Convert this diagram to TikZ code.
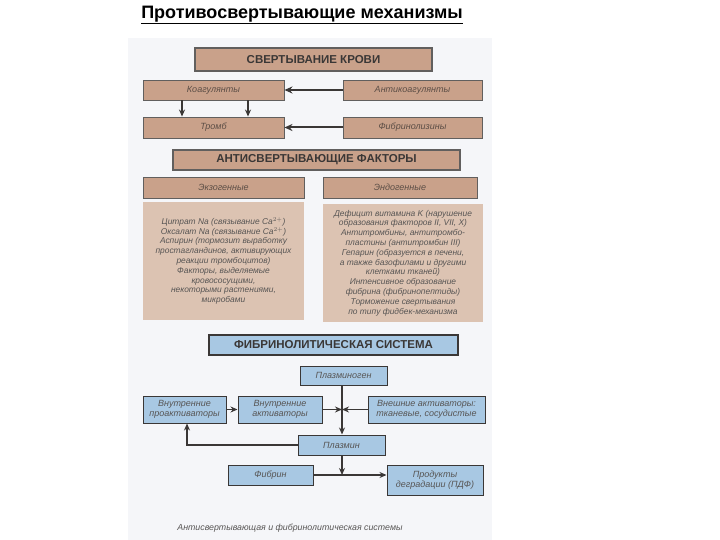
\documentclass[tikz,border=0pt]{standalone}
\usepackage{fontspec}
\setmainfont{Liberation Sans}
\usetikzlibrary{arrows.meta}

\definecolor{scan}{HTML}{F5F6F9}
\definecolor{tan}{HTML}{C9A18A}
\definecolor{tanlight}{HTML}{DCC3B2}
\definecolor{sky}{HTML}{A8C8E3}
\definecolor{ink}{HTML}{3A3736}
\definecolor{faded}{HTML}{5C4E46}

\begin{document}
\begin{tikzpicture}[x=1pt,y=-1pt,
    brownbox/.style={draw=ink!80,line width=0.9pt,fill=tan,inner sep=0pt,text=faded,font=\fontsize{9}{10}\selectfont\itshape},
    headbox/.style={brownbox,line width=1.2pt,text=ink,font=\fontsize{11.5}{12}\selectfont\bfseries},
    notebox/.style={fill=tanlight,inner sep=0pt,text=ink!85,align=center,font=\fontsize{8.4}{9.8}\selectfont\itshape},
    bluebox/.style={draw=ink,line width=1pt,fill=sky,inner sep=0pt,align=center,text=ink!85,font=\fontsize{9}{9.5}\selectfont\itshape},
    bluehead/.style={bluebox,line width=1.2pt,text=ink,font=\fontsize{11.5}{12}\selectfont\bfseries\upshape},
    thick arrow/.style={draw=ink,line width=2pt,-{Stealth[length=8pt,width=7pt]}},
    thin arrow/.style={draw=ink,line width=1.5pt,-{Stealth[length=7pt,width=6pt]}}]
  \useasboundingbox (0,0) rectangle (720,540);
  \fill[white] (0,0) rectangle (720,540);
  \fill[scan] (128,38) rectangle (492,540);

  \node (title) at (302,15) {\fontsize{18}{20}\selectfont\bfseries\underline{Противосвертывающие механизмы}};

  \node[headbox,minimum width=237,minimum height=23] (krov) at (313.5,59.5) {СВЕРТЫВАНИЕ КРОВИ};
  \node[brownbox,minimum width=141,minimum height=20] (koag) at (213.5,90) {Коагулянты};
  \node[brownbox,minimum width=139,minimum height=20] (antikoag) at (412.5,90) {Антикоагулянты};
  \node[brownbox,minimum width=141,minimum height=21] (tromb) at (213.5,127.5) {Тромб};
  \node[brownbox,minimum width=139,minimum height=21] (fibrinoliz) at (412.5,127.5) {Фибринолизины};

  \draw[thick arrow] (antikoag) -- (koag);
  \draw[thick arrow] (fibrinoliz) -- (tromb);
  \foreach \dx in {-31.5,34.5}
    \draw[thin arrow] ([xshift=\dx]koag.south) -- ([xshift=\dx]tromb.north);

  \node[headbox,minimum width=287,minimum height=20] (faktory) at (316.5,160) {АНТИСВЕРТЫВАЮЩИЕ ФАКТОРЫ};
  \node[brownbox,minimum width=161,minimum height=21] (exo) at (223.5,187.5) {Экзогенные};
  \node[brownbox,minimum width=154,minimum height=21] (endo) at (400,187.5) {Эндогенные};

  \node[notebox,minimum width=161,minimum height=118] (exotext) at (223.5,261) {Цитрат Na (связывание Ca$^{2+}$)\\
    Оксалат Na (связывание Ca$^{2+}$)\\
    Аспирин (тормозит выработку\\
    простагландинов, активирующих\\
    реакции тромбоцитов)\\
    Факторы, выделяемые\\
    кровососущими,\\
    некоторыми растениями,\\
    микробами};
  \node[notebox,minimum width=160,minimum height=118] (endotext) at (403,263) {Дефицит витамина K (нарушение\\
    образования факторов II, VII, X)\\
    Антитромбины, антитромбо-\\
    пластины (антитромбин III)\\
    Гепарин (образуется в печени,\\
    а также базофилами и другими\\
    клетками тканей)\\
    Интенсивное образование\\
    фибрина (фибринопептиды)\\
    Торможение свертывания\\
    по типу фидбек-механизма};

  \node[bluehead,minimum width=249,minimum height=20] (fibsys) at (333.5,345) {ФИБРИНОЛИТИЧЕСКАЯ СИСТЕМА};
  \node[bluebox,minimum width=87,minimum height=19] (plgen) at (343.5,375.5) {Плазминоген};
  \node[bluebox,minimum width=83,minimum height=27] (proakt) at (184.5,409.5) {Внутренние\\проактиваторы};
  \node[bluebox,minimum width=84,minimum height=27] (akt) at (280,409.5) {Внутренние\\активаторы};
  \node[bluebox,minimum width=117,minimum height=27] (vnesh) at (426.5,409.5) {Внешние активаторы:\\тканевые, сосудистые};
  \node[bluebox,minimum width=87,minimum height=20] (plazmin) at (341.5,445) {Плазмин};
  \node[bluebox,minimum width=85,minimum height=20] (fibrin) at (270.5,475) {Фибрин};
  \node[bluebox,minimum width=96,minimum height=30] (pdf) at (435,480) {Продукты\\деградации (ПДФ)};

  \coordinate (junction) at (342,409.5);
  \coordinate (split) at (342,475);

  \draw[draw=ink,line width=1.5pt] (plgen.south -| junction) -- (junction);
  \draw[thin arrow] (junction) -- (plazmin.north -| junction);
  \draw[thin arrow] (akt) -- (junction);
  \draw[thin arrow] (vnesh) -- (junction);
  \draw[thin arrow] (proakt) -- (akt);
  \draw[thin arrow] (plazmin.west) -| ([xshift=2.5pt]proakt.south);
  \draw[thin arrow] (plazmin.south -| split) -- (split);
  \draw[thin arrow] (fibrin.east |- split) -- (pdf.west |- split);

  \node[text=ink!85,font=\fontsize{8.8}{9.5}\selectfont\itshape] (caption) at (290,528) {Антисвертывающая и фибринолитическая системы};
\end{tikzpicture}
\end{document}
